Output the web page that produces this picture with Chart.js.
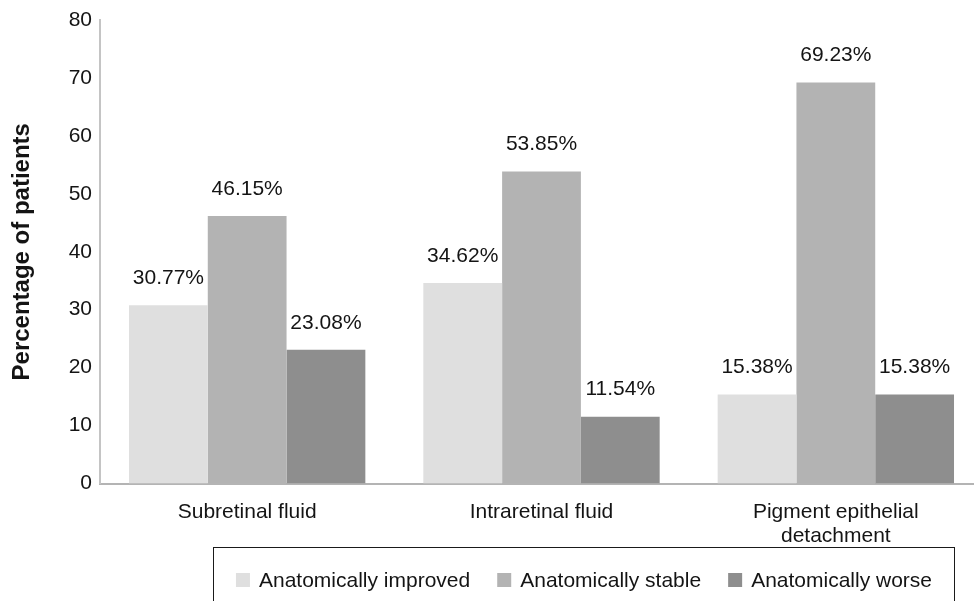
<!DOCTYPE html>
<html>
<head>
<meta charset="utf-8">
<script src="https://cdn.jsdelivr.net/npm/chart.js@4.4.1/dist/chart.umd.min.js"></script>
<style>
  html, body { margin: 0; padding: 0; background: #fff; overflow: hidden; width: 974px; height: 601px; }
  #wrap { width: 1000px; height: 601px; }
  canvas { display: block; }
</style>
</head>
<body>
<div id="wrap"><canvas id="chart" width="1000" height="601"></canvas></div>
<script>
// Anatomical outcome per OCT finding (percentage of patients)
const categories = [['Subretinal fluid'], ['Intraretinal fluid'], ['Pigment epithelial', 'detachment']];
const seriesNames = ['Anatomically improved', 'Anatomically stable', 'Anatomically worse'];
const improved = [30.77, 34.62, 15.38];
const stable = [46.15, 53.85, 69.23];
const worse = [23.08, 11.54, 15.38];
const yTicks = [0, 10, 20, 30, 40, 50, 60, 70, 80];

const colors = ['#dfdfdf', '#b3b3b3', '#8e8e8e'];
const FONT = '"Liberation Sans", Arial, sans-serif';

// Percent labels above each bar
const valueLabels = {
  id: 'valueLabels',
  afterDatasetsDraw(chart) {
    const ctx = chart.ctx;
    ctx.save();
    ctx.font = '21px ' + FONT;
    ctx.fillStyle = '#141414';
    ctx.textAlign = 'center';
    ctx.textBaseline = 'middle';
    chart.data.datasets.forEach((ds, i) => {
      chart.getDatasetMeta(i).data.forEach((bar, j) => {
        ctx.fillText(ds.data[j].toFixed(2) + '%', bar.x, bar.y - 27);
      });
    });
    ctx.restore();
  }
};

// Boxed legend below the category labels
const boxedLegend = {
  id: 'boxedLegend',
  afterDraw(chart) {
    const ctx = chart.ctx;
    const box = { left: 213.5, top: 547.5, right: 954.5 };
    ctx.save();
    ctx.strokeStyle = '#1a1a1a';
    ctx.lineWidth = 1;
    ctx.strokeRect(box.left, box.top, box.right - box.left, 100);
    ctx.font = '21px ' + FONT;
    ctx.textBaseline = 'middle';
    ctx.textAlign = 'left';
    const sq = 14, gapText = 9, gapItem = 27, cy = 580;
    const widths = seriesNames.map(n => sq + gapText + ctx.measureText(n).width);
    const total = widths.reduce((a, b) => a + b, 0) + gapItem * (widths.length - 1);
    let x = (box.left + box.right) / 2 - total / 2;
    seriesNames.forEach((name, i) => {
      ctx.fillStyle = colors[i];
      ctx.fillRect(x, cy - sq / 2, sq, sq);
      ctx.fillStyle = '#141414';
      ctx.fillText(name, x + sq + gapText, cy + 1);
      x += widths[i] + gapItem;
    });
    ctx.restore();
  }
};

new Chart(document.getElementById('chart'), {
  type: 'bar',
  data: {
    labels: categories,
    datasets: [
      { label: seriesNames[0], data: improved, backgroundColor: colors[0] },
      { label: seriesNames[1], data: stable, backgroundColor: colors[1] },
      { label: seriesNames[2], data: worse, backgroundColor: colors[2] }
    ]
  },
  options: {
    responsive: false,
    animation: false,
    events: [],
    devicePixelRatio: 1,
    layout: { padding: { top: 20, right: 17, bottom: 0, left: 0 } },
    datasets: { bar: { barPercentage: 1, categoryPercentage: 0.803 } },
    plugins: {
      legend: { display: false },
      tooltip: { enabled: false }
    },
    scales: {
      x: {
        grid: { display: false },
        border: { display: true, color: '#b4b4b4', width: 2 },
        ticks: { color: '#141414', font: { family: FONT, size: 21, lineHeight: 1.143 }, padding: 9, maxRotation: 0 },
        afterFit(scale) { scale.height = 117.5; }
      },
      y: {
        min: 0,
        max: 80,
        afterBuildTicks(scale) { scale.ticks = yTicks.map(v => ({ value: v })); },
        grid: { display: false },
        border: { display: true, color: '#c4c4c4', width: 2 },
        ticks: { color: '#141414', font: { family: FONT, size: 21 }, padding: 0 },
        title: {
          display: true,
          text: 'Percentage of patients',
          color: '#141414',
          font: { family: FONT, size: 24, weight: 'bold' },
          padding: { top: 8, bottom: 0 }
        },
        afterFit(scale) { scale.width = 100; }
      }
    }
  },
  plugins: [valueLabels, boxedLegend]
});
</script>
</body>
</html>
